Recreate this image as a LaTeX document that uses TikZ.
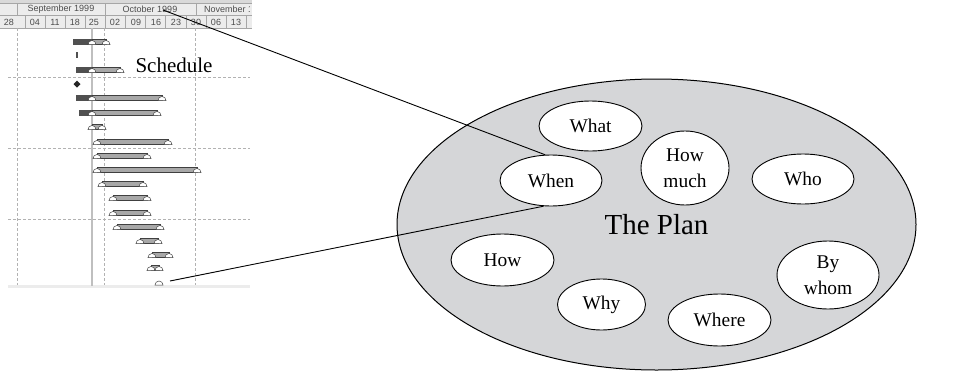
\documentclass[tikz,border=0pt]{standalone}
\usepackage{fontspec}
\setmainfont{Liberation Serif}
\setsansfont{Liberation Sans}
\usetikzlibrary{shapes.geometric}
\definecolor{planfill}{RGB}{213,214,216}
\definecolor{hdrfill}{RGB}{236,236,236}
\definecolor{barfill}{RGB}{168,168,168}
\definecolor{bardone}{RGB}{80,80,80}
\begin{document}
\begin{tikzpicture}[x=1pt,y=-1pt,
  question/.style={ellipse,draw,fill=white,line width=0.9pt,inner sep=0pt,align=center,font=\fontsize{19.4}{25.5}\selectfont},
  hdrtext/.style={font=\sffamily\fontsize{9}{9}\selectfont,text=black!70,inner sep=0pt},
  gridline/.style={gray!60,densely dashed,line width=0.6pt},
  hdrline/.style={gray!70,line width=0.6pt},
  donebar/.style={fill=bardone,draw=bardone,line width=0.6pt},
  todobar/.style={fill=barfill,draw=black!75,line width=0.6pt},
  endmark/.style={fill=white,draw=black!75,line width=0.5pt}]
 \useasboundingbox (0,0) rectangle (963,372);

 \fill[gray!30] (0,0) rectangle (252,3);
 \fill[hdrfill] (0,3) rectangle (252,28);
 \draw[hdrline] (0,3) -- (252,3);
 \draw[hdrline] (0,15.5) -- (252,15.5);
 \draw[hdrline] (0,28) -- (252,28);
 \foreach \x in {17,105,196} \draw[hdrline] (\x,3) -- (\x,15.5);
 \foreach \k in {0,...,11} \draw[hdrline] (25+20.1*\k,15.5) -- (25+20.1*\k,28);
 \node[hdrtext] (sep) at (61,9.5) {September 1999};
 \node[hdrtext] (oct) at (150,9.5) {October 1999};
 \begin{scope}
  \clip (196,3) rectangle (249.3,15.5);
  \node[hdrtext,anchor=west] (nov) at (204,9.5) {November 1999};
 \end{scope}
 \foreach \x/\d in {9/28,35/04,55/11,75/18,94/25,115/02,136/09,156/16,176/23,196/30,216/06,236/13}
  \node[hdrtext] (d\x) at (\x,22) {\d};

 \foreach \x in {17,104,195} \draw[gridline] (\x,28) -- (\x,286);
 \foreach \y in {77,148,219} \draw[gridline] (8,\y) -- (250,\y);
 \fill[gray!15] (8,285) rectangle (250,288);
 \draw[gray!50,line width=1.3pt] (92,28) -- (92,286);

 \foreach \y/\a in {42/73,70/76,98/76,113/79}
  \filldraw[donebar] (\a,\y-2.5) rectangle (92,\y+2.5);
 \foreach \y/\a/\b in {42/92/106,70/92/120,98/92/162,113/92/157,127/92/102,142/97/168,156/97/147,170/97/197,184/102/143,198/113/147,213/113/147,227/117/160,241/140/158,255/152/169,268/151/159}
 {
  \filldraw[todobar] (\a,\y-2.5) rectangle (\b,\y+2.5);
  \filldraw[endmark] (\a-4,\y+2.5) arc (180:360:4) -- cycle;
  \filldraw[endmark] (\b-4,\y+2.5) arc (180:360:4) -- cycle;
 }
 \fill[bardone] (76,52) rectangle (78,58);
 \fill[black!85] (77,80.5) -- (80.5,84) -- (77,87.5) -- (73.5,84) -- cycle;
 \filldraw[endmark] (155,285) arc (180:360:4) -- cycle;
 \node[font=\fontsize{21}{21}\selectfont] (sched) at (174,65) {Schedule};

 \node[ellipse,draw,fill=planfill,line width=1pt,minimum width=519pt,minimum height=291pt,inner sep=0pt,font=\fontsize{29}{29}\selectfont] (plan) at (656.5,224.5) {The Plan};

 \node[question,minimum width=103pt,minimum height=50pt] (what) at (590.5,126) {What};
 \node[question,minimum width=102pt,minimum height=51pt] (when) at (551,180.5) {When};
 \node[question,minimum width=88pt,minimum height=74pt] (howmuch) at (685,168) {How\\much};
 \node[question,minimum width=102pt,minimum height=50pt] (who) at (803,179) {Who};
 \node[question,minimum width=103pt,minimum height=52pt] (how) at (502.5,260) {How};
 \node[question,minimum width=88pt,minimum height=51pt] (why) at (601.5,304.5) {Why};
 \node[question,minimum width=103pt,minimum height=52pt] (where) at (719.5,320) {Where};
 \node[question,minimum width=102pt,minimum height=68pt] (bywhom) at (828,275) {By\\whom};

 \coordinate (hdrpt) at (163,10);
 \coordinate (mspt) at (170,281);
 \draw[line width=0.9pt] (hdrpt) -- (when.103);
 \draw[line width=0.9pt] (mspt) -- (when.254);

\end{tikzpicture}
\end{document}
